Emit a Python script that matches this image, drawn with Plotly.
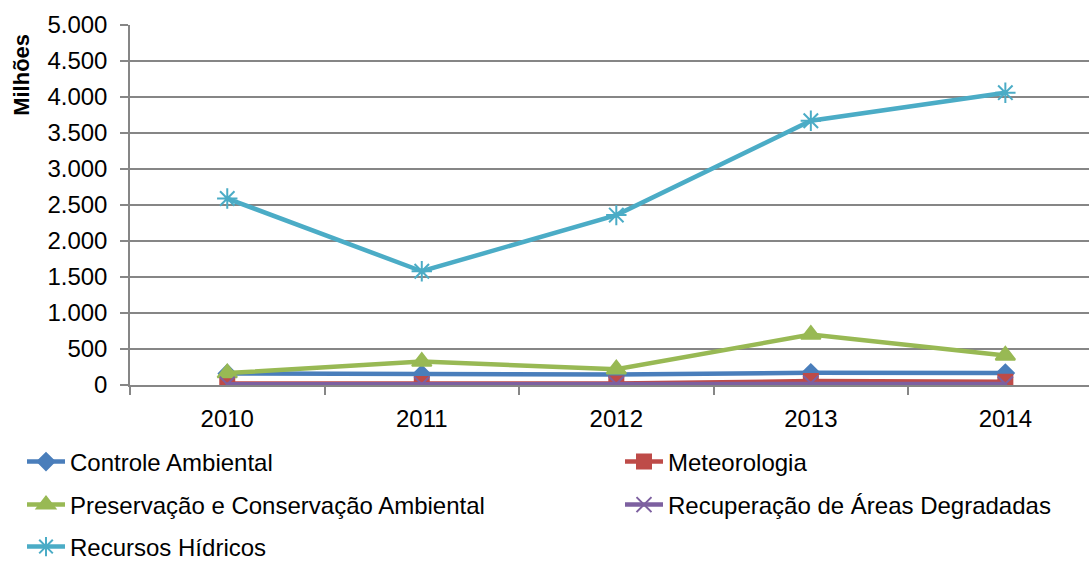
import plotly.graph_objects as go

years = ["2010", "2011", "2012", "2013", "2014"]
controle = [160, 150, 145, 170, 165]
meteorologia = [20, 15, 20, 55, 45]
preservacao = [165, 325, 220, 700, 410]
recuperacao = [10, 10, 15, 25, 15]
recursos = [2590, 1580, 2360, 3670, 4060]

series = [
    ("Controle Ambiental", controle, "#4A7EBB", "diamond", 13, "legend"),
    ("Meteorologia", meteorologia, "#BE4B48", "square", 14, "legend2"),
    ("Preservação e Conservação Ambiental", preservacao, "#98B954", "triangle-up", 17, "legend3"),
    ("Recuperação de Áreas Degradadas", recuperacao, "#7D60A0", "x-thin-open", 15, "legend4"),
    ("Recursos Hídricos", recursos, "#4BACC6", "asterisk-open", 17, "legend5"),
]

fig = go.Figure()
for name, vals, color, sym, size, lg in series:
    fig.add_trace(go.Scatter(
        x=years, y=vals, name=name, mode="lines+markers", legend=lg,
        line=dict(color=color, width=4.5),
        marker=dict(symbol=sym, size=size, color=color,
                    line=dict(color=color, width=2)),
    ))

W, H = 1089, 561
# legend entry positions (pixels): (left x, row center y)
leg_pos = {
    "legend": (22, 462),
    "legend2": (620, 462),
    "legend3": (22, 505),
    "legend4": (620, 505),
    "legend5": (22, 547),
}
leg_layout = {}
for key, (px, py) in leg_pos.items():
    leg_layout[key] = dict(orientation="h", xref="container", yref="container",
                           x=px / W, xanchor="left", y=1 - py / H, yanchor="middle",
                           itemwidth=38, traceorder="normal",
                           font=dict(size=24, family="Liberation Sans", color="black"),
                           bgcolor="rgba(0,0,0,0)")

fig.update_layout(
    width=W, height=H,
    margin=dict(l=130, r=0, t=25, b=176),
    paper_bgcolor="white", plot_bgcolor="white",
    font=dict(family="Liberation Sans", size=24, color="black"),
    separators=",.",
    showlegend=True,
    annotations=[dict(text="<b>Milhões</b>", textangle=-90, xref="paper", yref="paper",
                      x=-0.113, y=0.98, xanchor="center", yanchor="top",
                      showarrow=False, font=dict(size=22))],
    **leg_layout,
)
fig.update_xaxes(type="category", range=[-0.5, 4.43], tickson="boundaries",
                 ticks="outside", ticklen=8, tickcolor="#868686", tickwidth=1.5,
                 ticklabelstandoff=11,
                 showline=True, linecolor="#868686", linewidth=1.5,
                 showgrid=False, zeroline=False)
fig.update_yaxes(range=[0, 5000], dtick=500, tickformat=",.0f",
                 ticks="outside", ticklen=8, tickcolor="#868686", tickwidth=1.5,
                 ticklabelstandoff=8,
                 showline=True, linecolor="#868686", linewidth=1.5,
                 showgrid=True, gridcolor="#868686", gridwidth=1.5,
                 zeroline=False)

fig.write_html("out.html", config={"displayModeBar": False},
               post_script="document.body.style.margin='0';document.body.style.overflow='hidden';")
